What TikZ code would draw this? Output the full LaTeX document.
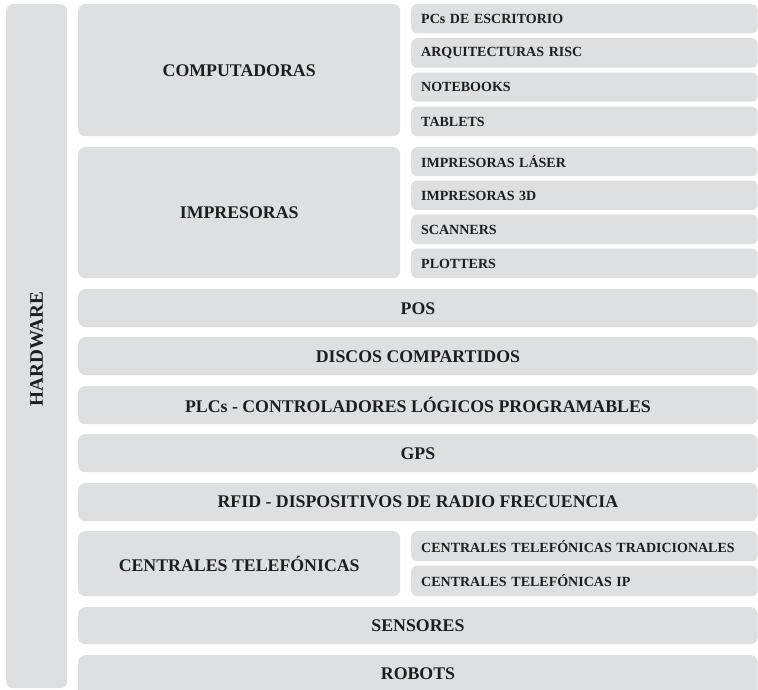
\documentclass[tikz,border=0pt]{standalone}
\usepackage{fontspec}
\setmainfont{Liberation Serif}
\definecolor{boxgray}{RGB}{222,223,225}
\definecolor{txt}{RGB}{30,30,30}
\tikzset{
  box/.style={fill=boxgray, draw=none, rounded corners=7pt, inner sep=0pt, anchor=north west, text=txt, font=\bfseries\fontsize{17.8}{20}\selectfont},
  subbox/.style={fill=boxgray, draw=none, rounded corners=6pt, inner xsep=10pt, inner ysep=0pt, anchor=north west, align=left, text=txt, font=\bfseries\fontsize{14}{16}\selectfont},
}
\newcommand{\mkbox}[6]{% name, x1, y1, x2, y2, text
  \node[box, minimum width={#4-#2}, minimum height={#5-#3}] (#1) at (#2,#3) {#6};}
\newcommand{\mksub}[6]{%
  \node[subbox, text width={#4-#2-20}, minimum height={#5-#3}] (#1) at (#2,#3) {#6};}
\begin{document}
\begin{tikzpicture}[x=1pt,y=-1pt]
\useasboundingbox (0,0) rectangle (758,689);
\clip (0,0) rectangle (758,689);
\fill[white] (0,0) rectangle (758,689);
% HARDWARE
\node[box, minimum width=61, minimum height=684] (hw) at (6,4) {};
\node[text=txt, font=\bfseries\fontsize{19.2}{21}\selectfont, rotate=90] (hwl) at ([yshift=-3pt]hw.center) {HARDWARE};
% Computadoras
\mkbox{comp}{78}{4}{400}{136}{COMPUTADORAS}
\mksub{pcs}{411}{4}{757.5}{33}{PCs DE ESCRITORIO}
\mksub{risc}{411}{38}{757.5}{67.5}{ARQUITECTURAS RISC}
\mksub{note}{411}{72.5}{757.5}{101.5}{NOTEBOOKS}
\mksub{tab}{411}{106.5}{757.5}{136}{TABLETS}
% Impresoras
\mkbox{imp}{78}{147}{400}{278}{IMPRESORAS}
\mksub{laser}{411}{147}{757.5}{176}{IMPRESORAS LÁSER}
\mksub{tresd}{411}{180.5}{757.5}{210}{IMPRESORAS 3D}
\mksub{scan}{411}{214.5}{757.5}{244}{SCANNERS}
\mksub{plot}{411}{248.5}{757.5}{278}{PLOTTERS}
% full bars
\mkbox{pos}{78}{289}{757.5}{327}{POS}
\mkbox{disc}{78}{337}{757.5}{375}{DISCOS COMPARTIDOS}
\mkbox{plc}{78}{386}{757.5}{424}{PLCs - CONTROLADORES LÓGICOS PROGRAMABLES}
\mkbox{gps}{78}{434}{757.5}{472}{GPS}
\mkbox{rfid}{78}{483}{757.5}{521}{RFID - DISPOSITIVOS DE RADIO FRECUENCIA}
% Centrales
\mkbox{cent}{78}{531}{400}{596}{CENTRALES TELEFÓNICAS}
\mksub{trad}{411}{531}{757.5}{561}{CENTRALES TELEFÓNICAS TRADICIONALES}
\mksub{ip}{411}{565.5}{757.5}{596}{CENTRALES TELEFÓNICAS IP}
\mkbox{sens}{78}{607}{757.5}{644}{SENSORES}
\mkbox{rob}{78}{655}{757.5}{710}{}
\node[text=txt, font=\bfseries\fontsize{17.8}{20}\selectfont] (robl) at (418,674) {ROBOTS};
\end{tikzpicture}
\end{document}
